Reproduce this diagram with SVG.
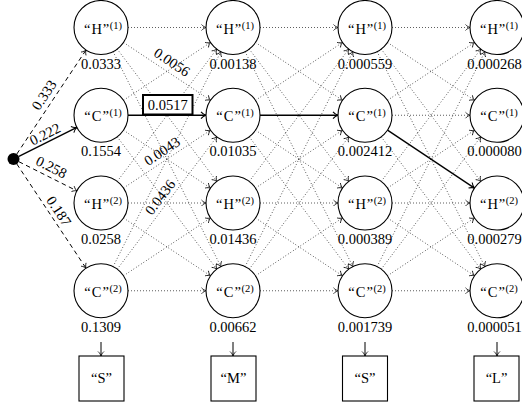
<svg xmlns="http://www.w3.org/2000/svg" width="522" height="404" viewBox="0 0 522 404">
<style>
text{font-family:"Liberation Serif","Times New Roman",serif;font-size:14.5px;fill:#000}
.lbl{text-anchor:middle}
.sup{font-size:10.5px}
.q{letter-spacing:1px}
.node{fill:#fff;stroke:#000;stroke-width:1.1}
.box{fill:#fff;stroke:#000;stroke-width:1.1}
.dot{fill:none;stroke:#000;stroke-width:0.8;stroke-dasharray:0.8 2.2;marker-end:url(#ah)}
.dash{fill:none;stroke:#000;stroke-width:1;stroke-dasharray:4.5 3.5;marker-end:url(#ah)}
.solid{fill:none;stroke:#000;stroke-width:1.4;marker-end:url(#ahb)}
.arr{fill:none;stroke:#000;stroke-width:1;marker-end:url(#ah)}
</style>
<defs>
<marker id="ah" markerUnits="userSpaceOnUse" markerWidth="10" markerHeight="10" viewBox="-6 -5 10 10" refX="0" refY="0" orient="auto">
<path d="M-4.5,-3 C-3,-1.2 -1,-0.3 0,0 C-1,0.3 -3,1.2 -4.5,3" fill="none" stroke="#000" stroke-width="0.8"/>
</marker>
<marker id="ahb" markerUnits="userSpaceOnUse" markerWidth="12" markerHeight="12" viewBox="-7 -6 12 12" refX="0" refY="0" orient="auto">
<path d="M-5,-3.3 C-3.3,-1.3 -1.1,-0.3 0,0 C-1.1,0.3 -3.3,1.3 -5,3.3" fill="none" stroke="#000" stroke-width="1.1"/>
</marker>
</defs>
<g id="connectors">
<line class="dash" x1="16.82" y1="154" x2="86.04" y2="49.98"/>
<line class="solid" x1="18.87" y1="156.32" x2="76.85" y2="127.32"/>
<line class="dash" x1="18.86" y1="161.7" x2="76.88" y2="190.87"/>
<line class="dash" x1="16.82" y1="164" x2="86.06" y2="268.26"/>
<line class="dot" x1="128" y1="27.5" x2="206" y2="27.5"/>
<line class="dot" x1="123.49" y1="42.45" x2="210.51" y2="100.3"/>
<line class="dot" x1="117.23" y1="49.08" x2="216.77" y2="181.42"/>
<line class="dot" x1="113.1" y1="51.64" x2="220.9" y2="266.61"/>
<line class="dot" x1="123.49" y1="100.3" x2="210.51" y2="42.45"/>
<line class="dot" x1="123.49" y1="130.2" x2="210.51" y2="188.05"/>
<line class="dot" x1="117.23" y1="136.83" x2="216.77" y2="269.17"/>
<line class="dot" x1="117.23" y1="181.42" x2="216.77" y2="49.08"/>
<line class="dot" x1="123.49" y1="188.05" x2="210.51" y2="130.2"/>
<line class="dot" x1="128" y1="203" x2="206" y2="203"/>
<line class="dot" x1="123.49" y1="217.95" x2="210.51" y2="275.8"/>
<line class="dot" x1="113.1" y1="266.61" x2="220.9" y2="51.64"/>
<line class="dot" x1="117.23" y1="269.17" x2="216.77" y2="136.83"/>
<line class="dot" x1="123.49" y1="275.8" x2="210.51" y2="217.95"/>
<line class="dot" x1="128" y1="290.75" x2="206" y2="290.75"/>
<line class="solid" x1="128" y1="115.25" x2="206" y2="115.25"/>
<line class="dot" x1="260" y1="27.5" x2="338" y2="27.5"/>
<line class="dot" x1="255.49" y1="42.45" x2="342.51" y2="100.3"/>
<line class="dot" x1="249.23" y1="49.08" x2="348.77" y2="181.42"/>
<line class="dot" x1="245.1" y1="51.64" x2="352.9" y2="266.61"/>
<line class="dot" x1="255.49" y1="100.3" x2="342.51" y2="42.45"/>
<line class="dot" x1="255.49" y1="130.2" x2="342.51" y2="188.05"/>
<line class="dot" x1="249.23" y1="136.83" x2="348.77" y2="269.17"/>
<line class="dot" x1="249.23" y1="181.42" x2="348.77" y2="49.08"/>
<line class="dot" x1="255.49" y1="188.05" x2="342.51" y2="130.2"/>
<line class="dot" x1="260" y1="203" x2="338" y2="203"/>
<line class="dot" x1="255.49" y1="217.95" x2="342.51" y2="275.8"/>
<line class="dot" x1="245.1" y1="266.61" x2="352.9" y2="51.64"/>
<line class="dot" x1="249.23" y1="269.17" x2="348.77" y2="136.83"/>
<line class="dot" x1="255.49" y1="275.8" x2="342.51" y2="217.95"/>
<line class="dot" x1="260" y1="290.75" x2="338" y2="290.75"/>
<line class="solid" x1="260" y1="115.25" x2="338" y2="115.25"/>
<line class="dot" x1="392" y1="27.5" x2="470" y2="27.5"/>
<line class="dot" x1="387.49" y1="42.45" x2="474.51" y2="100.3"/>
<line class="dot" x1="381.23" y1="49.08" x2="480.77" y2="181.42"/>
<line class="dot" x1="377.1" y1="51.64" x2="484.9" y2="266.61"/>
<line class="dot" x1="387.49" y1="100.3" x2="474.51" y2="42.45"/>
<line class="dot" x1="392" y1="115.25" x2="470" y2="115.25"/>
<line class="dot" x1="381.23" y1="136.83" x2="480.77" y2="269.17"/>
<line class="dot" x1="381.23" y1="181.42" x2="480.77" y2="49.08"/>
<line class="dot" x1="387.49" y1="188.05" x2="474.51" y2="130.2"/>
<line class="dot" x1="392" y1="203" x2="470" y2="203"/>
<line class="dot" x1="387.49" y1="217.95" x2="474.51" y2="275.8"/>
<line class="dot" x1="377.1" y1="266.61" x2="484.9" y2="51.64"/>
<line class="dot" x1="381.23" y1="269.17" x2="480.77" y2="136.83"/>
<line class="dot" x1="387.49" y1="275.8" x2="474.51" y2="217.95"/>
<line class="dot" x1="392" y1="290.75" x2="470" y2="290.75"/>
<line class="solid" x1="387.49" y1="130.2" x2="474.51" y2="188.05"/>
<line class="arr" x1="101" y1="342" x2="101" y2="356"/>
<line class="arr" x1="233" y1="342" x2="233" y2="356"/>
<line class="arr" x1="365" y1="342" x2="365" y2="356"/>
<line class="arr" x1="497" y1="342" x2="497" y2="356"/>
<text class="lbl" transform="translate(44,95) rotate(-56.3)" y="5">0.333</text>
<text class="lbl" transform="translate(45,134) rotate(-26.6)" y="5">0.222</text>
<text class="lbl" transform="translate(51.5,167) rotate(26.7)" y="5">0.258</text>
<text class="lbl" transform="translate(59,211) rotate(56.4)" y="5">0.187</text>
<text class="lbl" transform="translate(172,62) rotate(33.6)" y="5">0.0056</text>
<text class="lbl" transform="translate(162,151) rotate(-33.6)" y="5">0.0043</text>
<text class="lbl" transform="translate(160,197) rotate(-53)" y="5">0.0436</text>
<rect x="143" y="95" width="49.5" height="19.5" fill="#fff" stroke="#000" stroke-width="2"/>
<text class="lbl" x="167.75" y="110">0.0517</text>
</g>
<g id="start"><circle cx="13.5" cy="159" r="6" fill="#000"/></g>
<g id="n1H1"><circle class="node" cx="101" cy="27.5" r="27"/><text class="lbl" x="103" y="33.5"><tspan class="q">“H”</tspan><tspan class="sup" dx="-0.5" dy="-5">(1)</tspan></text><text class="lbl" x="101" y="68.5">0.0333</text></g>
<g id="n1C1"><circle class="node" cx="101" cy="115.25" r="27"/><text class="lbl" x="103" y="121.25"><tspan class="q">“C”</tspan><tspan class="sup" dx="-0.5" dy="-5">(1)</tspan></text><text class="lbl" x="101" y="156.25">0.1554</text></g>
<g id="n1H2"><circle class="node" cx="101" cy="203" r="27"/><text class="lbl" x="103" y="209"><tspan class="q">“H”</tspan><tspan class="sup" dx="-0.5" dy="-5">(2)</tspan></text><text class="lbl" x="101" y="244">0.0258</text></g>
<g id="n1C2"><circle class="node" cx="101" cy="290.75" r="27"/><text class="lbl" x="103" y="296.75"><tspan class="q">“C”</tspan><tspan class="sup" dx="-0.5" dy="-5">(2)</tspan></text><text class="lbl" x="101" y="331.75">0.1309</text></g>
<g id="n2H1"><circle class="node" cx="233" cy="27.5" r="27"/><text class="lbl" x="235" y="33.5"><tspan class="q">“H”</tspan><tspan class="sup" dx="-0.5" dy="-5">(1)</tspan></text><text class="lbl" x="233" y="68.5">0.00138</text></g>
<g id="n2C1"><circle class="node" cx="233" cy="115.25" r="27"/><text class="lbl" x="235" y="121.25"><tspan class="q">“C”</tspan><tspan class="sup" dx="-0.5" dy="-5">(1)</tspan></text><text class="lbl" x="233" y="156.25">0.01035</text></g>
<g id="n2H2"><circle class="node" cx="233" cy="203" r="27"/><text class="lbl" x="235" y="209"><tspan class="q">“H”</tspan><tspan class="sup" dx="-0.5" dy="-5">(2)</tspan></text><text class="lbl" x="233" y="244">0.01436</text></g>
<g id="n2C2"><circle class="node" cx="233" cy="290.75" r="27"/><text class="lbl" x="235" y="296.75"><tspan class="q">“C”</tspan><tspan class="sup" dx="-0.5" dy="-5">(2)</tspan></text><text class="lbl" x="233" y="331.75">0.00662</text></g>
<g id="n3H1"><circle class="node" cx="365" cy="27.5" r="27"/><text class="lbl" x="367" y="33.5"><tspan class="q">“H”</tspan><tspan class="sup" dx="-0.5" dy="-5">(1)</tspan></text><text class="lbl" x="365" y="68.5">0.000559</text></g>
<g id="n3C1"><circle class="node" cx="365" cy="115.25" r="27"/><text class="lbl" x="367" y="121.25"><tspan class="q">“C”</tspan><tspan class="sup" dx="-0.5" dy="-5">(1)</tspan></text><text class="lbl" x="365" y="156.25">0.002412</text></g>
<g id="n3H2"><circle class="node" cx="365" cy="203" r="27"/><text class="lbl" x="367" y="209"><tspan class="q">“H”</tspan><tspan class="sup" dx="-0.5" dy="-5">(2)</tspan></text><text class="lbl" x="365" y="244">0.000389</text></g>
<g id="n3C2"><circle class="node" cx="365" cy="290.75" r="27"/><text class="lbl" x="367" y="296.75"><tspan class="q">“C”</tspan><tspan class="sup" dx="-0.5" dy="-5">(2)</tspan></text><text class="lbl" x="365" y="331.75">0.001739</text></g>
<g id="n4H1"><circle class="node" cx="497" cy="27.5" r="27"/><text class="lbl" x="499" y="33.5"><tspan class="q">“H”</tspan><tspan class="sup" dx="-0.5" dy="-5">(1)</tspan></text><text class="lbl" x="494.5" y="68.5">0.000268</text></g>
<g id="n4C1"><circle class="node" cx="497" cy="115.25" r="27"/><text class="lbl" x="499" y="121.25"><tspan class="q">“C”</tspan><tspan class="sup" dx="-0.5" dy="-5">(1)</tspan></text><text class="lbl" x="494.5" y="156.25">0.000080</text></g>
<g id="n4H2"><circle class="node" cx="497" cy="203" r="27"/><text class="lbl" x="499" y="209"><tspan class="q">“H”</tspan><tspan class="sup" dx="-0.5" dy="-5">(2)</tspan></text><text class="lbl" x="494.5" y="244">0.000279</text></g>
<g id="n4C2"><circle class="node" cx="497" cy="290.75" r="27"/><text class="lbl" x="499" y="296.75"><tspan class="q">“C”</tspan><tspan class="sup" dx="-0.5" dy="-5">(2)</tspan></text><text class="lbl" x="494.5" y="331.75">0.000051</text></g>
<g id="out1"><rect class="box" x="79" y="356" width="45" height="45"/><text class="lbl" x="101.5" y="382.5">“S”</text></g>
<g id="out2"><rect class="box" x="211" y="356" width="45" height="45"/><text class="lbl" x="233.5" y="382.5">“M”</text></g>
<g id="out3"><rect class="box" x="342.5" y="356" width="45" height="45"/><text class="lbl" x="365" y="382.5">“S”</text></g>
<g id="out4"><rect class="box" x="474" y="356" width="45" height="45"/><text class="lbl" x="496.5" y="382.5">“L”</text></g>
</svg>
